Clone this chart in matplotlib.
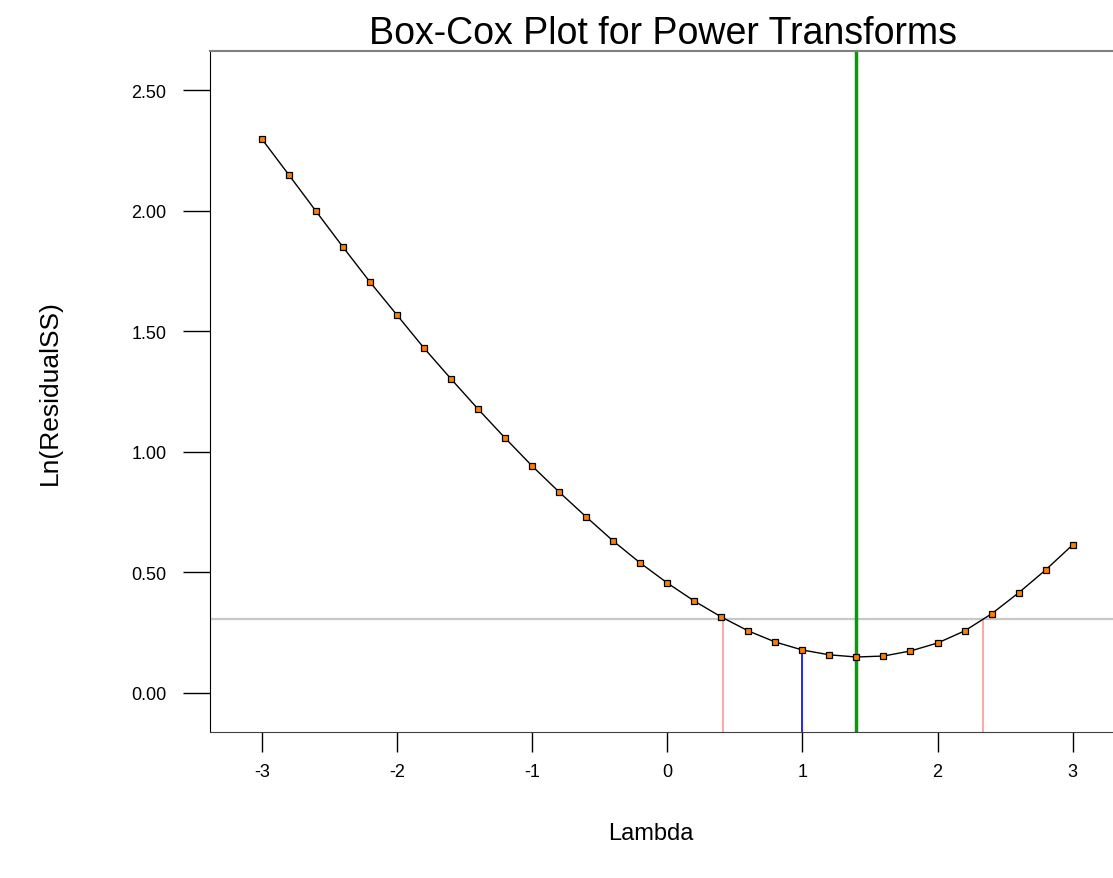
import numpy as np
import matplotlib
matplotlib.use('Agg')
import matplotlib.pyplot as plt

plt.rcParams['font.family'] = ['Liberation Sans', 'DejaVu Sans']

# datos
lam = [-3.0, -2.8, -2.6, -2.4, -2.2, -2.0, -1.8, -1.6, -1.4, -1.2, -1.0,
       -0.8, -0.6, -0.4, -0.2, 0.0, 0.2, 0.4, 0.6, 0.8, 1.0,
       1.2, 1.4, 1.6, 1.8, 2.0, 2.2, 2.4, 2.6, 2.8, 3.0]
ln_rss = [2.297, 2.148, 1.998, 1.849, 1.704, 1.567, 1.430, 1.302, 1.177, 1.057, 0.941,
          0.833, 0.730, 0.630, 0.539, 0.456, 0.381, 0.315, 0.257, 0.211, 0.178,
          0.158, 0.149, 0.153, 0.174, 0.207, 0.257, 0.328, 0.415, 0.510, 0.614]
ci_level = 0.307
ci_lo = 0.41
ci_hi = 2.333
lam_best = 1.40
lam_ref = 1.0
ref_val = 0.178

xticks = [-3, -2, -1, 0, 1, 2, 3]
yticks = [0.0, 0.5, 1.0, 1.5, 2.0, 2.5]

fig = plt.figure(figsize=(11.13, 8.79), dpi=100)
ax = fig.add_axes([210/1113, (879-733)/879, (1124-210)/1113, (733-52)/879])

ax.set_xlim(-3.384, 3.38)
ax.set_ylim(-0.162, 2.662)

ax.axhline(ci_level, color='#c8c8c8', lw=1.6, zorder=1)
ax.vlines([ci_lo, ci_hi], -0.162, ci_level, color='#ff9f9f', lw=1.3, zorder=1)
ax.vlines(lam_ref, -0.162, ref_val, color='#0000ff', lw=1.2, zorder=1)
ax.axvline(lam_best, color='#00a000', lw=2.5, zorder=1)

ax.plot(lam, ln_rss, color='black', lw=1, zorder=2)
ax.plot(lam, ln_rss, ls='none', marker='s', ms=4.5, mfc='#ff8000', mec='black', mew=0.9, zorder=3)

ax.set_xticks(xticks)
ax.set_xticklabels([str(t) for t in xticks])
ax.set_yticks(yticks)
ax.set_yticklabels(['%.2f' % t for t in yticks])
ax.tick_params(axis='x', direction='out', length=14.5, width=1, labelsize=13, pad=8)
ax.tick_params(axis='y', direction='out', length=19.5, width=1, labelsize=13, pad=12)

ax.spines['left'].set_color('black')
ax.spines['bottom'].set_color('#404040')
ax.spines['top'].set_color('#808080')
ax.spines['top'].set_linewidth(1.5)

ax.set_title('Box-Cox Plot for Power Transforms', fontsize=27, pad=5, x=0.496)
ax.set_xlabel('Lambda', fontsize=17, labelpad=30, x=0.4825)
ax.set_ylabel('Ln(ResidualSS)', fontsize=19, labelpad=50)

fig.savefig('out.png', dpi=100)
